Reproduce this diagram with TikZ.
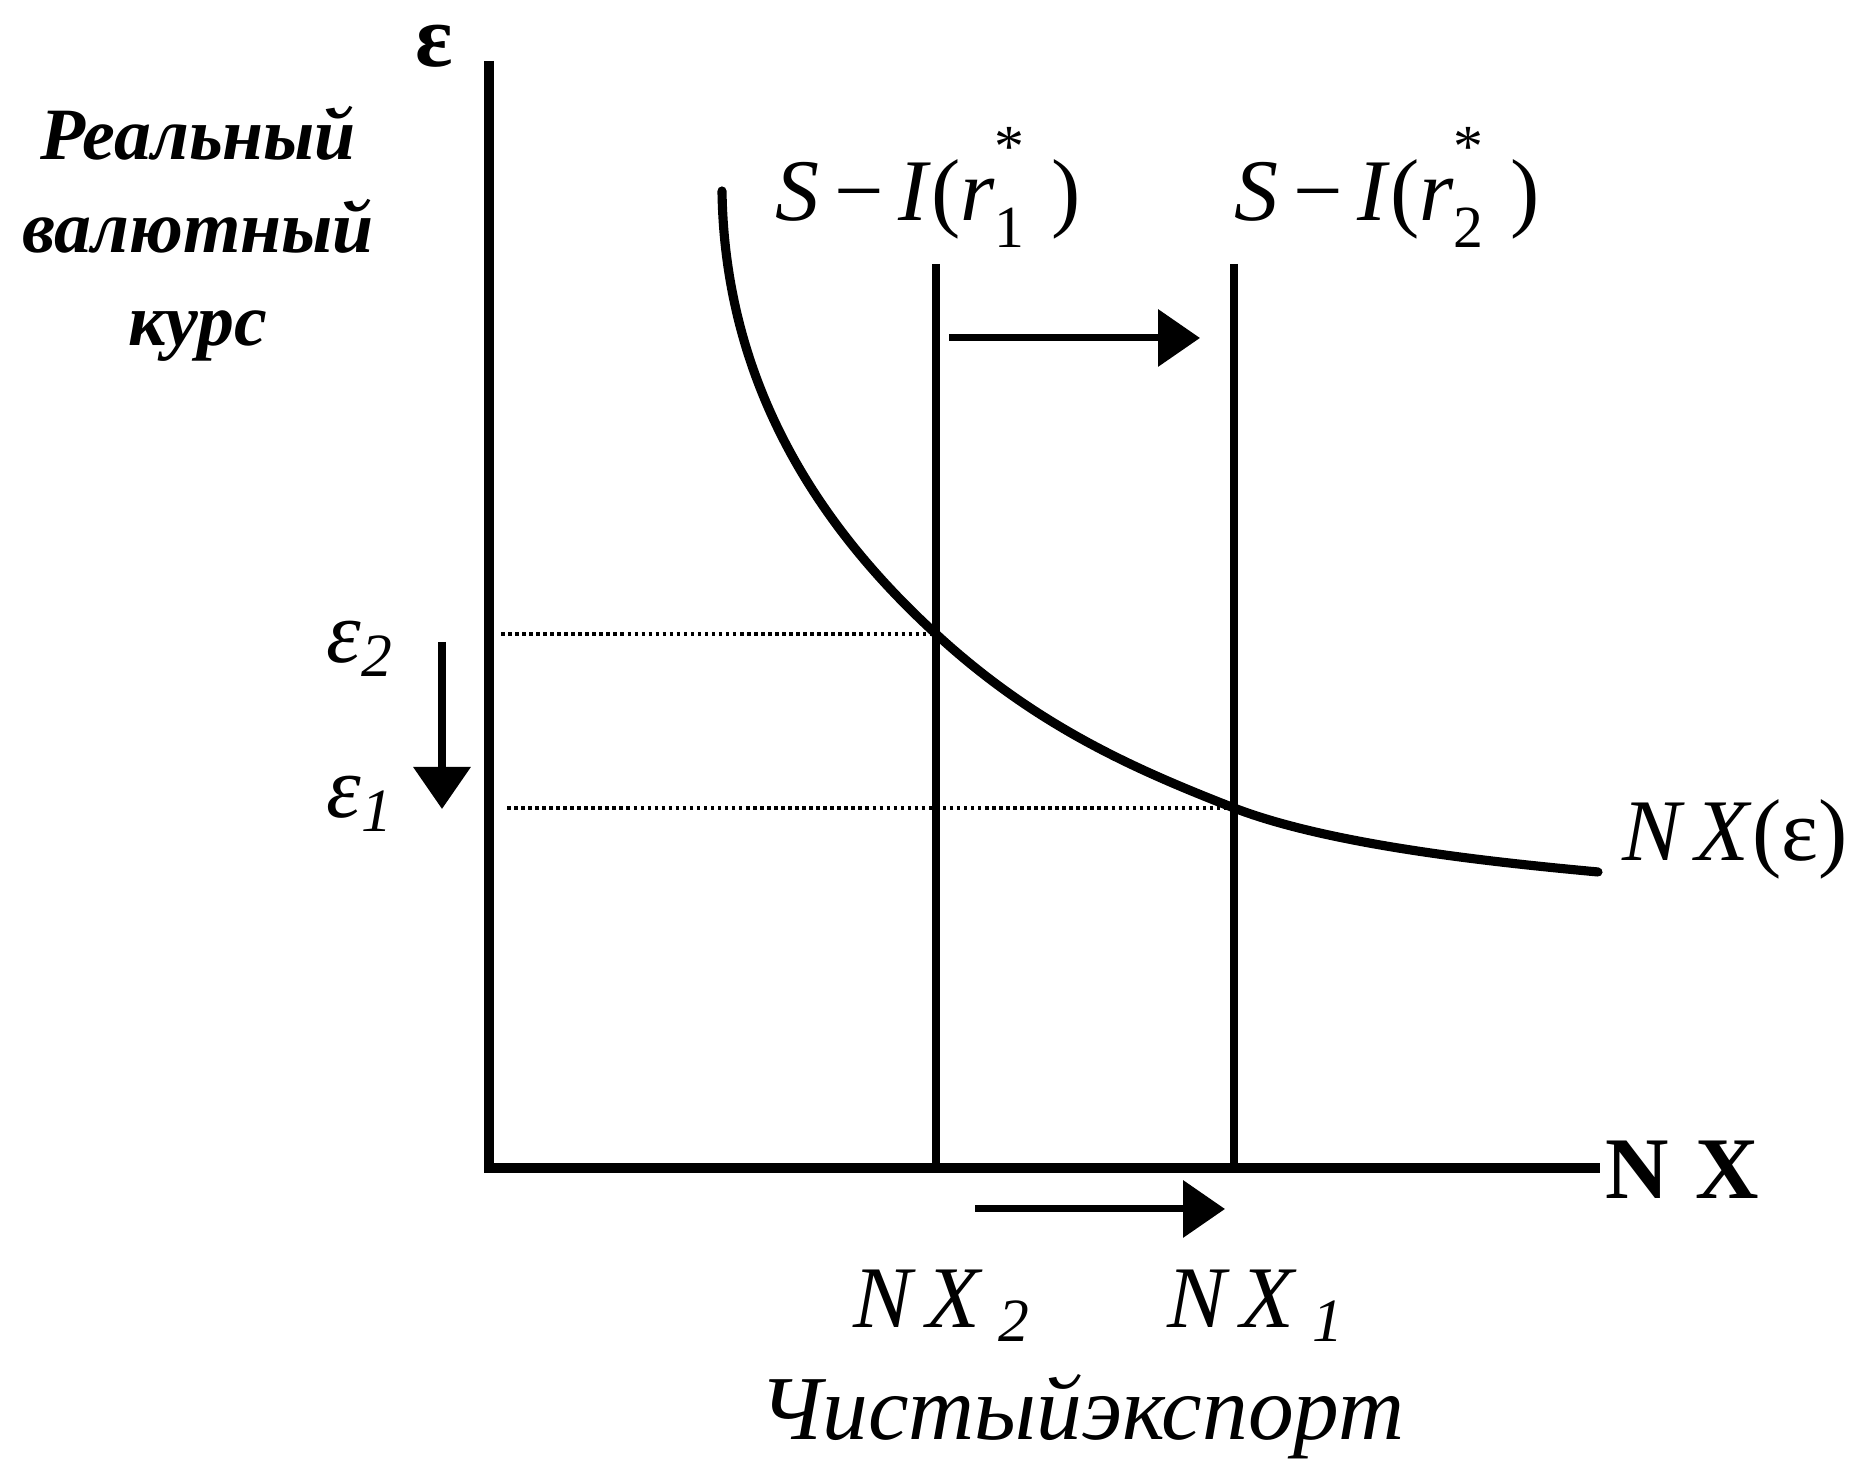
\documentclass[tikz,border=0pt]{standalone}
\usepackage{fontspec}
\setmainfont{Liberation Serif}
\usetikzlibrary{arrows.meta,calc}

\newcommand{\rstar}[1]{\textit{r}\rlap{\raisebox{-0.3em}{\fontsize{17}{20}\selectfont #1}}\raisebox{0.62em}{\fontsize{17}{20}\selectfont *}}

\begin{document}
\begin{tikzpicture}[
	x=1cm, y=1cm,
	axisline/.style={line width=2.6pt},
	silevel/.style={line width=2pt},
	nxcurve/.style={line width=2.6pt, line cap=round, line join=round},
	guide/.style={densely dotted, line width=1pt},
	movearrow/.style={-{Triangle[length=4.2mm, width=5.6mm]}, line width=2pt},
	lbl/.style={inner sep=0pt, font=\fontsize{25}{30}\selectfont},
	axlbl/.style={inner sep=0pt, font=\bfseries\fontsize{25}{30}\selectfont},
	sidelbl/.style={inner sep=0pt, align=center, font=\bfseries\itshape\fontsize{21}{26.5}\selectfont},
]
\useasboundingbox (0,0) rectangle (18.72,14.64);

% --- Osi ---
\coordinate (O) at (4.89,2.96);
\coordinate (ytop) at (4.89,14.03);
\coordinate (xend) at (16.00,2.96);
\draw[axisline] (ytop) -- (O) -- (xend);

\node[axlbl] (epsaxis) at (4.34,14.18) {ε};
\node[axlbl, anchor=west] (nxaxis) at (16.05,2.94) {N\hspace{0.3em}X};
\node[sidelbl] (ylabel) at (1.98,12.30) {Реальный\\валютный\\курс};
\node[lbl, anchor=base, font=\itshape\fontsize{26}{30}\selectfont] (xlabel) at (10.82,0.24) {Чистыйэкспорт};

% --- Krivye S - I ---
\coordinate (s1) at (9.36,12.00);
\coordinate (s2) at (12.34,12.00);
\foreach \s in {s1,s2}
	\draw[silevel] (\s) -- (\s |- O);

\node[lbl, anchor=base west] (s1lbl) at (7.75,12.43)
	{\textit{S}\,−\,\textit{I}(\rstar{1}\hspace{0.3em})};
\node[lbl, anchor=base west] (s2lbl) at (12.34,12.43)
	{\textit{S}\,−\,\textit{I}(\rstar{2}\hspace{0.3em})};

% --- Krivaya NX ---
\coordinate (nxstart) at (7.22,12.73);
\coordinate (e2pt) at (9.36,8.30);
\coordinate (e1pt) at (12.34,6.56);
\coordinate (nxend) at (15.98,5.92);
\draw[nxcurve] (nxstart) .. controls (7.25,10.6) and (8.4,9.18) .. (e2pt)
	.. controls (10.36,7.38) and (11.34,6.95) .. (e1pt)
	.. controls (13.3,6.19) and (14.9,6.02) .. (nxend);
\node[lbl, anchor=west] (nxlbl) at (16.22,6.25) {\textit{N\,X}(ε)};

% --- Urovni kursa ---
\draw[guide] ($(O |- e2pt)+(0.12,0)$) -- (e2pt);
\draw[guide] ($(O |- e1pt)+(0.18,0)$) -- (e1pt);
\node[lbl, anchor=base west] (e2lbl) at (3.26,8.01) {\textit{ε}\textsubscript{\textit{2}}};
\node[lbl, anchor=base west] (e1lbl) at (3.26,6.46) {\textit{ε}\textsubscript{\textit{1}}};

% --- Strelki sdviga ---
\coordinate (upA) at (9.49,11.26);
\coordinate (upB) at (12.00,11.26);
\coordinate (dnA) at (9.75,2.55);
\coordinate (dnB) at (12.25,2.55);
\coordinate (epsA) at (4.42,8.22);
\coordinate (epsB) at (4.42,6.55);
\draw[movearrow] (upA) -- (upB);
\draw[movearrow] (dnA) -- (dnB);
\draw[movearrow] (epsA) -- (epsB);

\node[lbl, anchor=base west] (nx2) at (8.53,1.36) {\textit{N\,X}\,\textsubscript{\textit{2}}};
\node[lbl, anchor=base west] (nx1) at (11.67,1.36) {\textit{N\,X}\,\textsubscript{\textit{1}}};

\end{tikzpicture}
\end{document}
